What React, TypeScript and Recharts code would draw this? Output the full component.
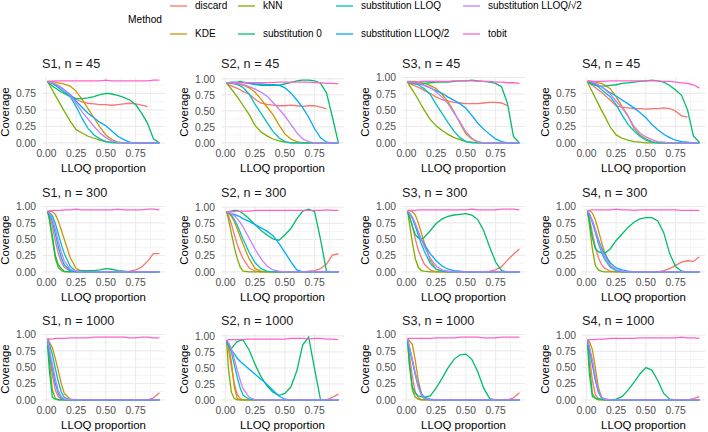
import { CartesianGrid, Line, LineChart, XAxis, YAxis } from 'recharts';

// LLOQ proportions at which coverage was evaluated
const LLOQ = [0.01, 0.025, 0.05, 0.075, 0.1, 0.125, 0.15, 0.2, 0.25, 0.3, 0.35, 0.4, 0.45, 0.5, 0.55, 0.6, 0.65, 0.7, 0.75, 0.8, 0.85, 0.9, 0.95];

const METHODS = ['discard', 'KDE', 'kNN', 'substitution 0', 'substitution LLOQ', 'substitution LLOQ/2', 'substitution LLOQ/√2', 'tobit'];
const COLORS = ['#F8766D', '#CD9600', '#7CAE00', '#00BE67', '#00BFC4', '#00A9FF', '#C77CFF', '#FF61CC'];

const X_TICKS = [0, 0.25, 0.5, 0.75];
const Y_TICKS = [0, 0.25, 0.5, 0.75, 1];
const X_MINOR = [0.125, 0.375, 0.625, 0.875];
const Y_MINOR = [0.125, 0.375, 0.625, 0.875];

// rows follow METHODS order
const S1_N45 = [
  [0.93, 0.92, 0.91, 0.89, 0.87, 0.84, 0.8, 0.73, 0.66, 0.62, 0.6, 0.59, 0.58, 0.58, 0.57, 0.58, 0.59, 0.6, 0.59, 0.57, 0.55, null, null],
  [0.93, 0.93, 0.93, 0.92, 0.91, 0.9, 0.89, 0.86, 0.78, 0.66, 0.52, 0.38, 0.24, 0.12, 0.05, 0.01, 0, 0, 0, 0, 0, 0, 0],
  [0.93, 0.88, 0.8, 0.72, 0.64, 0.56, 0.48, 0.33, 0.2, 0.15, 0.1, 0.07, 0.04, 0.02, 0.01, 0, 0, 0, 0, 0, 0, 0, 0],
  [0.93, 0.9, 0.86, 0.83, 0.8, 0.77, 0.75, 0.7, 0.67, 0.67, 0.68, 0.7, 0.73, 0.75, 0.74, 0.72, 0.69, 0.65, 0.58, 0.45, 0.3, 0.06, 0],
  [0.93, 0.92, 0.9, 0.87, 0.84, 0.8, 0.77, 0.7, 0.55, 0.37, 0.22, 0.12, 0.06, 0.02, 0, 0, 0, 0, 0, 0, 0, 0, 0],
  [0.93, 0.92, 0.9, 0.88, 0.86, 0.83, 0.8, 0.73, 0.63, 0.54, 0.45, 0.38, 0.31, 0.26, 0.18, 0.1, 0.05, 0.01, 0, 0, 0, 0, 0],
  [0.93, 0.92, 0.91, 0.89, 0.86, 0.83, 0.8, 0.72, 0.6, 0.47, 0.36, 0.25, 0.15, 0.08, 0.03, 0.01, 0, 0, 0, 0, 0, 0, 0],
  [0.93, 0.93, 0.93, 0.94, 0.94, 0.94, 0.94, 0.94, 0.94, 0.94, 0.94, 0.94, 0.94, 0.95, 0.94, 0.94, 0.94, 0.94, 0.94, 0.94, 0.94, 0.95, 0.95],
];

const S2_N45 = [
  [0.93, 0.91, 0.89, 0.87, 0.85, 0.83, 0.8, 0.76, 0.68, 0.62, 0.6, 0.59, 0.58, 0.58, 0.59, 0.58, 0.57, 0.58, 0.58, 0.56, 0.53, null, null],
  [0.93, 0.93, 0.93, 0.93, 0.92, 0.91, 0.9, 0.86, 0.79, 0.68, 0.56, 0.44, 0.28, 0.14, 0.06, 0.02, 0, 0, 0, 0, 0, 0, 0],
  [0.93, 0.9, 0.84, 0.78, 0.72, 0.65, 0.58, 0.44, 0.27, 0.17, 0.11, 0.06, 0.03, 0.01, 0, 0, 0, 0, 0, 0, 0, 0, 0],
  [0.93, 0.94, 0.95, 0.95, 0.95, 0.96, 0.95, 0.93, 0.91, 0.9, 0.9, 0.9, 0.9, 0.92, 0.94, 0.97, 0.98, 0.98, 0.97, 0.93, 0.78, 0.4, 0],
  [0.93, 0.93, 0.93, 0.92, 0.91, 0.89, 0.86, 0.76, 0.6, 0.46, 0.32, 0.18, 0.08, 0.02, 0, 0, 0, 0, 0, 0, 0, 0, 0],
  [0.94, 0.94, 0.94, 0.94, 0.94, 0.94, 0.94, 0.93, 0.92, 0.92, 0.91, 0.91, 0.9, 0.86, 0.78, 0.67, 0.55, 0.4, 0.22, 0.08, 0.01, 0, 0],
  [0.94, 0.94, 0.94, 0.93, 0.93, 0.92, 0.91, 0.88, 0.84, 0.79, 0.73, 0.63, 0.53, 0.42, 0.29, 0.16, 0.06, 0.02, 0, 0, 0, 0, 0],
  [0.93, 0.94, 0.94, 0.94, 0.94, 0.94, 0.94, 0.94, 0.94, 0.94, 0.94, 0.94, 0.95, 0.95, 0.95, 0.95, 0.95, 0.95, 0.94, 0.94, 0.93, 0.93, 0.92],
];

const S3_N45 = [
  [0.93, 0.91, 0.89, 0.87, 0.85, 0.83, 0.8, 0.76, 0.7, 0.66, 0.64, 0.62, 0.61, 0.6, 0.6, 0.6, 0.61, 0.62, 0.62, 0.61, 0.57, null, null],
  [0.94, 0.94, 0.94, 0.94, 0.93, 0.92, 0.91, 0.88, 0.83, 0.74, 0.63, 0.48, 0.3, 0.14, 0.06, 0.01, 0, 0, 0, 0, 0, 0, 0],
  [0.93, 0.88, 0.81, 0.74, 0.66, 0.58, 0.5, 0.36, 0.26, 0.19, 0.13, 0.08, 0.05, 0.02, 0.01, 0, 0, 0, 0, 0, 0, 0, 0],
  [0.93, 0.92, 0.91, 0.9, 0.9, 0.9, 0.91, 0.92, 0.93, 0.93, 0.93, 0.94, 0.95, 0.95, 0.96, 0.95, 0.94, 0.93, 0.91, 0.86, 0.6, 0.1, 0],
  [0.93, 0.93, 0.92, 0.91, 0.89, 0.86, 0.83, 0.74, 0.59, 0.45, 0.31, 0.18, 0.08, 0.02, 0, 0, 0, 0, 0, 0, 0, 0, 0],
  [0.94, 0.93, 0.93, 0.92, 0.91, 0.9, 0.88, 0.84, 0.8, 0.76, 0.7, 0.65, 0.6, 0.53, 0.42, 0.3, 0.21, 0.13, 0.06, 0.02, 0, 0, 0],
  [0.93, 0.93, 0.93, 0.92, 0.91, 0.9, 0.88, 0.85, 0.78, 0.7, 0.6, 0.46, 0.32, 0.17, 0.07, 0.02, 0, 0, 0, 0, 0, 0, 0],
  [0.93, 0.93, 0.93, 0.93, 0.93, 0.94, 0.94, 0.94, 0.94, 0.94, 0.94, 0.95, 0.95, 0.95, 0.95, 0.94, 0.94, 0.94, 0.93, 0.93, 0.92, 0.92, 0.91],
];

const S4_N45 = [
  [0.93, 0.9, 0.87, 0.84, 0.8, 0.77, 0.73, 0.65, 0.56, 0.54, 0.53, 0.52, 0.52, 0.51, 0.52, 0.52, 0.53, 0.52, 0.48, 0.41, 0.39, null, null],
  [0.94, 0.94, 0.93, 0.92, 0.91, 0.9, 0.88, 0.82, 0.7, 0.55, 0.41, 0.22, 0.12, 0.06, 0.02, 0, 0, 0, 0, 0, 0, 0, 0],
  [0.92, 0.86, 0.77, 0.68, 0.59, 0.5, 0.42, 0.24, 0.12, 0.07, 0.04, 0.02, 0.01, 0, 0, 0, 0, 0, 0, 0, 0, 0, 0],
  [0.93, 0.91, 0.89, 0.87, 0.86, 0.86, 0.86, 0.87, 0.88, 0.9, 0.91, 0.92, 0.93, 0.94, 0.95, 0.94, 0.92, 0.87, 0.8, 0.72, 0.5, 0.1, 0.01],
  [0.92, 0.92, 0.9, 0.88, 0.85, 0.81, 0.77, 0.7, 0.58, 0.42, 0.28, 0.18, 0.1, 0.04, 0.01, 0, 0, 0, 0, 0, 0, 0, 0],
  [0.93, 0.92, 0.91, 0.89, 0.87, 0.85, 0.82, 0.76, 0.71, 0.65, 0.59, 0.53, 0.46, 0.38, 0.28, 0.2, 0.13, 0.08, 0.04, 0.02, 0.01, 0, 0],
  [0.93, 0.93, 0.92, 0.9, 0.88, 0.85, 0.82, 0.74, 0.63, 0.53, 0.4, 0.25, 0.15, 0.09, 0.05, 0.02, 0.01, 0, 0, 0, 0, 0, 0],
  [0.93, 0.93, 0.93, 0.93, 0.93, 0.93, 0.93, 0.94, 0.94, 0.94, 0.94, 0.94, 0.94, 0.94, 0.94, 0.94, 0.93, 0.93, 0.92, 0.91, 0.9, 0.88, 0.83],
];

const S1_N300 = [
  [0.93, 0.86, 0.7, 0.47, 0.28, 0.15, 0.07, 0.01, 0, 0, 0, 0, 0, 0, 0, 0, 0, 0.01, 0.03, 0.07, 0.16, 0.28, 0.28],
  [0.93, 0.93, 0.92, 0.88, 0.78, 0.64, 0.5, 0.22, 0.05, 0.01, 0, 0, 0, 0, 0, 0, 0, 0, 0, 0, 0, 0, 0],
  [0.93, 0.8, 0.5, 0.2, 0.07, 0.02, 0, 0, 0, 0, 0, 0, 0, 0, 0, 0, 0, 0, 0, 0, 0, 0, 0],
  [0.93, 0.82, 0.55, 0.25, 0.11, 0.05, 0.01, 0, 0.01, 0.02, 0.02, 0.02, 0.03, 0.05, 0.04, 0.02, 0.01, 0, 0, 0, 0, 0, 0],
  [0.93, 0.91, 0.86, 0.74, 0.58, 0.42, 0.28, 0.08, 0.01, 0, 0, 0, 0, 0, 0, 0, 0, 0, 0, 0, 0, 0, 0],
  [0.93, 0.89, 0.78, 0.58, 0.38, 0.22, 0.11, 0.02, 0, 0, 0, 0, 0, 0, 0, 0, 0, 0, 0, 0, 0, 0, 0],
  [0.93, 0.9, 0.82, 0.66, 0.47, 0.3, 0.17, 0.04, 0.01, 0, 0, 0, 0, 0, 0, 0, 0, 0, 0, 0, 0, 0, 0],
  [0.93, 0.93, 0.94, 0.94, 0.94, 0.94, 0.95, 0.95, 0.96, 0.95, 0.95, 0.95, 0.95, 0.95, 0.95, 0.96, 0.95, 0.95, 0.95, 0.95, 0.96, 0.96, 0.95],
];

const S2_N300 = [
  [0.93, 0.87, 0.74, 0.58, 0.42, 0.3, 0.2, 0.06, 0.01, 0, 0, 0, 0, 0, 0, 0, 0, 0.01, 0.02, 0.05, 0.12, 0.26, 0.28],
  [0.93, 0.91, 0.86, 0.78, 0.66, 0.54, 0.42, 0.2, 0.05, 0.01, 0, 0, 0, 0, 0, 0, 0, 0, 0, 0, 0, 0, 0],
  [0.93, 0.82, 0.6, 0.38, 0.2, 0.07, 0.01, 0, 0, 0, 0, 0, 0, 0, 0, 0, 0, 0, 0, 0, 0, 0, 0],
  [0.93, 0.93, 0.94, 0.95, 0.95, 0.93, 0.9, 0.82, 0.73, 0.64, 0.57, 0.51, 0.49, 0.57, 0.67, 0.82, 0.94, 0.97, 0.93, 0.5, 0.01, 0, 0],
  [0.93, 0.92, 0.88, 0.81, 0.72, 0.61, 0.5, 0.3, 0.14, 0.05, 0.01, 0, 0, 0, 0, 0, 0, 0, 0, 0, 0, 0, 0],
  [0.93, 0.92, 0.9, 0.89, 0.87, 0.85, 0.82, 0.78, 0.73, 0.68, 0.63, 0.56, 0.44, 0.3, 0.16, 0.03, 0, 0, 0, 0, 0, 0, 0],
  [0.93, 0.92, 0.9, 0.87, 0.82, 0.76, 0.69, 0.52, 0.35, 0.2, 0.09, 0.03, 0.01, 0, 0, 0, 0, 0, 0, 0, 0, 0, 0],
  [0.93, 0.93, 0.93, 0.93, 0.94, 0.94, 0.94, 0.94, 0.95, 0.95, 0.95, 0.95, 0.95, 0.95, 0.95, 0.95, 0.95, 0.95, 0.95, 0.95, 0.96, 0.95, 0.95],
];

const S3_N300 = [
  [0.93, 0.85, 0.7, 0.5, 0.33, 0.22, 0.12, 0.03, 0, 0, 0, 0, 0, 0, 0, 0, 0, 0.01, 0.03, 0.08, 0.18, 0.27, 0.35],
  [0.94, 0.94, 0.92, 0.87, 0.75, 0.6, 0.45, 0.18, 0.04, 0.01, 0, 0, 0, 0, 0, 0, 0, 0, 0, 0, 0, 0, 0],
  [0.93, 0.75, 0.45, 0.2, 0.07, 0.02, 0.01, 0, 0, 0, 0, 0, 0, 0, 0, 0, 0, 0, 0, 0, 0, 0, 0],
  [0.93, 0.85, 0.7, 0.57, 0.52, 0.5, 0.53, 0.63, 0.74, 0.81, 0.85, 0.87, 0.88, 0.89, 0.87, 0.8, 0.63, 0.38, 0.15, 0.02, 0, 0, 0],
  [0.93, 0.9, 0.82, 0.7, 0.56, 0.43, 0.32, 0.13, 0.04, 0.01, 0, 0, 0, 0, 0, 0, 0, 0, 0, 0, 0, 0, 0],
  [0.93, 0.9, 0.83, 0.72, 0.6, 0.5, 0.42, 0.28, 0.17, 0.09, 0.04, 0.02, 0.01, 0, 0, 0, 0, 0, 0, 0, 0, 0, 0],
  [0.93, 0.9, 0.84, 0.74, 0.62, 0.5, 0.39, 0.21, 0.09, 0.03, 0.01, 0, 0, 0, 0, 0, 0, 0, 0, 0, 0, 0, 0],
  [0.93, 0.94, 0.94, 0.94, 0.95, 0.95, 0.95, 0.95, 0.95, 0.95, 0.95, 0.95, 0.95, 0.95, 0.96, 0.95, 0.95, 0.95, 0.95, 0.96, 0.96, 0.96, 0.95],
];

const S4_N300 = [
  [0.93, 0.82, 0.6, 0.38, 0.22, 0.12, 0.06, 0.01, 0, 0, 0, 0, 0, 0, 0, 0, 0.02, 0.05, 0.1, 0.15, 0.17, 0.16, 0.23],
  [0.94, 0.94, 0.9, 0.8, 0.64, 0.47, 0.32, 0.1, 0.02, 0, 0, 0, 0, 0, 0, 0, 0, 0, 0, 0, 0, 0, 0],
  [0.92, 0.72, 0.35, 0.1, 0.03, 0.01, 0, 0, 0, 0, 0, 0, 0, 0, 0, 0, 0, 0, 0, 0, 0, 0, 0],
  [0.93, 0.78, 0.52, 0.36, 0.31, 0.29, 0.28, 0.35, 0.48, 0.58, 0.68, 0.76, 0.81, 0.83, 0.83, 0.78, 0.6, 0.28, 0.08, 0.01, 0, 0, 0],
  [0.93, 0.88, 0.76, 0.6, 0.44, 0.31, 0.2, 0.07, 0.02, 0, 0, 0, 0, 0, 0, 0, 0, 0, 0, 0, 0, 0, 0],
  [0.93, 0.88, 0.78, 0.64, 0.5, 0.38, 0.28, 0.14, 0.06, 0.03, 0.01, 0, 0, 0, 0, 0, 0, 0, 0, 0, 0, 0, 0],
  [0.93, 0.89, 0.79, 0.64, 0.48, 0.35, 0.24, 0.09, 0.03, 0.01, 0, 0, 0, 0, 0, 0, 0, 0, 0, 0, 0, 0, 0],
  [0.94, 0.94, 0.95, 0.95, 0.95, 0.95, 0.95, 0.95, 0.96, 0.95, 0.95, 0.94, 0.95, 0.95, 0.95, 0.95, 0.95, 0.95, 0.95, 0.94, 0.94, 0.94, 0.94],
];

const S1_N1000 = [
  [0.93, 0.7, 0.38, 0.15, 0.05, 0.01, 0, 0, 0, 0, 0, 0, 0, 0, 0, 0, 0, 0, 0, 0, 0, 0.03, 0.11],
  [0.94, 0.88, 0.8, 0.63, 0.45, 0.25, 0.1, 0.01, 0, 0, 0, 0, 0, 0, 0, 0, 0, 0, 0, 0, 0, 0, 0],
  [0.92, 0.6, 0.15, 0.02, 0, 0, 0, 0, 0, 0, 0, 0, 0, 0, 0, 0, 0, 0, 0, 0, 0, 0, 0],
  [0.83, 0.45, 0.04, 0.01, 0, 0, 0, 0, 0, 0, 0, 0, 0, 0, 0, 0, 0, 0, 0, 0, 0, 0, 0],
  [0.93, 0.85, 0.7, 0.48, 0.28, 0.12, 0.04, 0, 0, 0, 0, 0, 0, 0, 0, 0, 0, 0, 0, 0, 0, 0, 0],
  [0.92, 0.74, 0.48, 0.25, 0.1, 0.03, 0.01, 0, 0, 0, 0, 0, 0, 0, 0, 0, 0, 0, 0, 0, 0, 0, 0],
  [0.93, 0.78, 0.55, 0.32, 0.14, 0.05, 0.01, 0, 0, 0, 0, 0, 0, 0, 0, 0, 0, 0, 0, 0, 0, 0, 0],
  [0.94, 0.93, 0.93, 0.94, 0.94, 0.94, 0.94, 0.95, 0.95, 0.95, 0.95, 0.96, 0.96, 0.96, 0.96, 0.96, 0.96, 0.95, 0.95, 0.96, 0.96, 0.95, 0.95],
];

const S2_N1000 = [
  [0.93, 0.8, 0.52, 0.25, 0.08, 0.02, 0, 0, 0, 0, 0, 0, 0, 0, 0, 0, 0, 0, 0, 0, 0, 0.04, 0.09],
  [0.92, 0.87, 0.6, 0.2, 0.02, 0, 0, 0, 0, 0, 0, 0, 0, 0, 0, 0, 0, 0, 0, 0, 0, 0, 0],
  [0.92, 0.5, 0.12, 0.02, 0, 0, 0, 0, 0, 0, 0, 0, 0, 0, 0, 0, 0, 0, 0, 0, 0, 0, 0],
  [0.93, 0.86, 0.8, 0.86, 0.91, 0.93, 0.93, 0.78, 0.55, 0.36, 0.22, 0.12, 0.07, 0.1, 0.2, 0.45, 0.86, 0.98, 0.48, 0, 0, 0, 0],
  [0.93, 0.88, 0.75, 0.55, 0.35, 0.18, 0.07, 0.01, 0, 0, 0, 0, 0, 0, 0, 0, 0, 0, 0, 0, 0, 0, 0],
  [0.92, 0.86, 0.78, 0.72, 0.65, 0.6, 0.56, 0.48, 0.4, 0.32, 0.24, 0.15, 0.06, 0.01, 0, 0, 0, 0, 0, 0, 0, 0, 0],
  [0.93, 0.9, 0.8, 0.64, 0.46, 0.3, 0.17, 0.04, 0, 0, 0, 0, 0, 0, 0, 0, 0, 0, 0, 0, 0, 0, 0],
  [0.93, 0.94, 0.94, 0.94, 0.94, 0.94, 0.94, 0.95, 0.95, 0.95, 0.95, 0.95, 0.95, 0.95, 0.96, 0.96, 0.96, 0.95, 0.96, 0.96, 0.95, 0.95, 0.94],
];

const S3_N1000 = [
  [0.93, 0.7, 0.35, 0.12, 0.03, 0, 0, 0, 0, 0, 0, 0, 0, 0, 0, 0, 0, 0, 0, 0, 0, 0.03, 0.11],
  [0.94, 0.9, 0.85, 0.6, 0.3, 0.1, 0.03, 0, 0, 0, 0, 0, 0, 0, 0, 0, 0, 0, 0, 0, 0, 0, 0],
  [0.92, 0.55, 0.15, 0.04, 0.01, 0, 0, 0, 0, 0, 0, 0, 0, 0, 0, 0, 0, 0, 0, 0, 0, 0, 0],
  [0.9, 0.55, 0.2, 0.1, 0.06, 0.05, 0.04, 0.06, 0.18, 0.33, 0.49, 0.62, 0.69, 0.7, 0.62, 0.43, 0.18, 0.02, 0, 0, 0, 0, 0],
  [0.93, 0.8, 0.6, 0.38, 0.2, 0.08, 0.02, 0, 0, 0, 0, 0, 0, 0, 0, 0, 0, 0, 0, 0, 0, 0, 0],
  [0.92, 0.8, 0.6, 0.4, 0.22, 0.1, 0.04, 0.01, 0, 0, 0, 0, 0, 0, 0, 0, 0, 0, 0, 0, 0, 0, 0],
  [0.93, 0.82, 0.62, 0.4, 0.2, 0.08, 0.03, 0, 0, 0, 0, 0, 0, 0, 0, 0, 0, 0, 0, 0, 0, 0, 0],
  [0.94, 0.94, 0.94, 0.94, 0.94, 0.94, 0.94, 0.94, 0.95, 0.95, 0.95, 0.95, 0.96, 0.96, 0.96, 0.96, 0.95, 0.95, 0.95, 0.96, 0.96, 0.96, 0.96],
];

const S4_N1000 = [
  [0.93, 0.7, 0.3, 0.08, 0.02, 0, 0, 0, 0, 0, 0, 0, 0, 0, 0, 0, 0, 0, 0, 0, 0, 0.02, 0.05],
  [0.93, 0.9, 0.78, 0.5, 0.2, 0.05, 0.01, 0, 0, 0, 0, 0, 0, 0, 0, 0, 0, 0, 0, 0, 0, 0, 0],
  [0.92, 0.55, 0.1, 0.02, 0, 0, 0, 0, 0, 0, 0, 0, 0, 0, 0, 0, 0, 0, 0, 0, 0, 0, 0],
  [0.85, 0.4, 0.05, 0.03, 0.02, 0.01, 0, 0, 0.01, 0.05, 0.15, 0.27, 0.4, 0.5, 0.46, 0.3, 0.1, 0.01, 0, 0, 0, 0, 0],
  [0.93, 0.8, 0.58, 0.33, 0.14, 0.04, 0.01, 0, 0, 0, 0, 0, 0, 0, 0, 0, 0, 0, 0, 0, 0, 0, 0],
  [0.92, 0.78, 0.55, 0.3, 0.12, 0.04, 0.01, 0, 0, 0, 0, 0, 0, 0, 0, 0, 0, 0, 0, 0, 0, 0, 0],
  [0.93, 0.82, 0.62, 0.36, 0.15, 0.05, 0.01, 0, 0, 0, 0, 0, 0, 0, 0, 0, 0, 0, 0, 0, 0, 0, 0],
  [0.93, 0.93, 0.93, 0.93, 0.94, 0.94, 0.94, 0.95, 0.95, 0.95, 0.95, 0.95, 0.96, 0.96, 0.96, 0.96, 0.96, 0.96, 0.96, 0.97, 0.96, 0.96, 0.95],
];

const PANELS = [
  { title: 'S1, n = 45', rows: S1_N45 },
  { title: 'S2, n = 45', rows: S2_N45 },
  { title: 'S3, n = 45', rows: S3_N45 },
  { title: 'S4, n = 45', rows: S4_N45 },
  { title: 'S1, n = 300', rows: S1_N300 },
  { title: 'S2, n = 300', rows: S2_N300 },
  { title: 'S3, n = 300', rows: S3_N300 },
  { title: 'S4, n = 300', rows: S4_N300 },
  { title: 'S1, n = 1000', rows: S1_N1000 },
  { title: 'S2, n = 1000', rows: S2_N1000 },
  { title: 'S3, n = 1000', rows: S3_N1000 },
  { title: 'S4, n = 1000', rows: S4_N1000 },
];

const FONT = '"Liberation Sans", Arial, Helvetica, sans-serif';
const COL_LEFT = [42, 221, 402, 582];
const ROW_TOP = [77, 205.5, 334];
const PW = 123;
const PH = 69;
const YW = 40;
const XH = 16;
const PAD = 8; // room above the plot so the top tick label is not clipped
const X_DOMAIN: [number, number] = [-0.037, 0.997];

function Panel({ title, rows, left, top }: { title: string; rows: (number | null)[][]; left: number; top: number }) {
  const data = LLOQ.map((x, i) => {
    const row: Record<string, number | null> = { x };
    rows.forEach((r, k) => { row[`m${k}`] = r[i]; });
    return row;
  });
  const max = Math.max(...rows.flat().filter((v): v is number => v !== null));
  const yDomain: [number, number] = [-0.05 * max, 1.05 * max];
  const yTicks = Y_TICKS.filter((t) => t <= yDomain[1]);
  const yMinor = Y_MINOR.filter((t) => t <= yDomain[1]);

  return (
    <>
      <div style={{ position: 'absolute', left, top: top - 21, fontSize: 12.7, lineHeight: '16px', color: '#1a1a1a', whiteSpace: 'nowrap' }}>{title}</div>
      <div
        style={{ position: 'absolute', left: left - 37, top: top + PH / 2, fontSize: 11.4, lineHeight: '14px', transform: 'translate(-50%, -50%) rotate(-90deg)', whiteSpace: 'nowrap' }}
      >
        Coverage
      </div>
      <div style={{ position: 'absolute', left, width: PW, top: top + PH + 15, fontSize: 11.4, lineHeight: '14px', textAlign: 'center', whiteSpace: 'nowrap' }}>
        LLOQ proportion
      </div>
      <div style={{ position: 'absolute', left: left - YW, top: top - PAD }}>
        <LineChart
          width={YW + PW + 4}
          height={PH + XH + PAD}
          data={data}
          margin={{ top: PAD, right: 4, bottom: 0, left: 0 }}
          style={{ overflow: 'visible' }}
        >
          <CartesianGrid horizontalValues={yMinor} verticalValues={X_MINOR} stroke="#EEEEEE" strokeWidth={0.6} />
          <CartesianGrid horizontalValues={yTicks} verticalValues={X_TICKS} stroke="#EBEBEB" strokeWidth={1.1} />
          <XAxis
            dataKey="x"
            type="number"
            domain={X_DOMAIN}
            ticks={X_TICKS}
            interval={0}
            allowDataOverflow
            height={XH}
            axisLine={false}
            tickLine={false}
            tickSize={0}
            tickMargin={4}
            tickFormatter={(v: number) => v.toFixed(2)}
            tick={{ fill: '#4D4D4D', fontSize: 10.3, fontFamily: FONT }}
          />
          <YAxis
            type="number"
            domain={yDomain}
            ticks={yTicks}
            interval={0}
            allowDataOverflow
            width={YW}
            axisLine={false}
            tickLine={false}
            tickSize={0}
            tickMargin={6}
            tickFormatter={(v: number) => v.toFixed(2)}
            tick={{ fill: '#4D4D4D', fontSize: 10.3, fontFamily: FONT }}
          />
          {METHODS.map((m, k) => (
            <Line
              key={m}
              type="linear"
              dataKey={`m${k}`}
              name={m}
              stroke={COLORS[k]}
              strokeWidth={1.3}
              dot={false}
              activeDot={false}
              isAnimationActive={false}
            />
          ))}
        </LineChart>
      </div>
    </>
  );
}

// legend keys laid out in two rows, filled column by column
const LEGEND_COLS = [170, 238, 336, 463];
const LEGEND_ROWS = [6, 34];

function LegendLabel({ name }: { name: string }) {
  if (name.endsWith('√2')) {
    return (
      <span>
        {name.slice(0, -2)}
        <span>√<span style={{ textDecoration: 'overline' }}>2</span></span>
      </span>
    );
  }
  return <span>{name}</span>;
}

export default function App() {
  return (
    <div style={{ position: 'fixed', left: 0, top: 0, width: 708, height: 432, background: '#fff', fontFamily: FONT, color: '#000', overflow: 'hidden' }}>
      <div style={{ position: 'absolute', left: 128, top: 20 - 7, fontSize: 10.2, lineHeight: '14px' }}>Method</div>
      {METHODS.map((m, k) => {
        const col = Math.floor(k / 2);
        const cy = LEGEND_ROWS[k % 2];
        const x = LEGEND_COLS[col];
        return (
          <div key={m}>
            <svg style={{ position: 'absolute', left: x, top: cy - 3 }} width={17} height={6}>
              <line x1={0} x2={17} y1={3} y2={3} stroke={COLORS[k]} strokeWidth={1.3} />
            </svg>
            <div style={{ position: 'absolute', left: x + 25, top: cy - 7, fontSize: 10, lineHeight: '14px', whiteSpace: 'nowrap' }}>
              <LegendLabel name={m} />
            </div>
          </div>
        );
      })}
      {PANELS.map((p, i) => (
        <Panel key={p.title} title={p.title} rows={p.rows} left={COL_LEFT[i % 4]} top={ROW_TOP[Math.floor(i / 4)]} />
      ))}
    </div>
  );
}
